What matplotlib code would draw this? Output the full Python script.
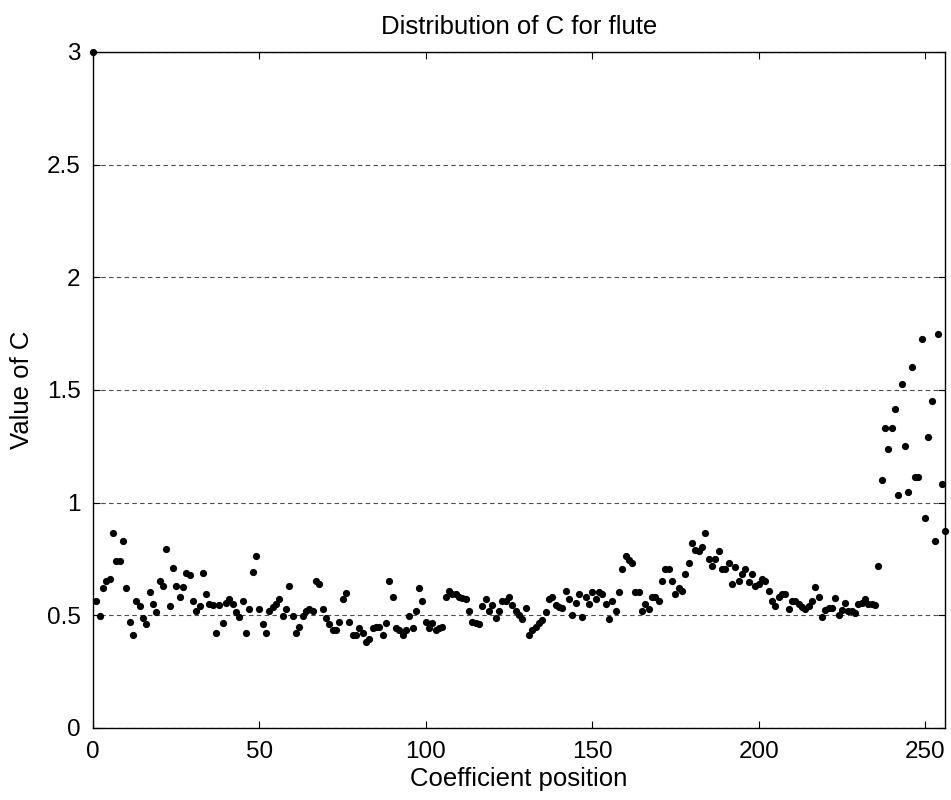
import matplotlib
matplotlib.use("Agg")
import matplotlib.pyplot as plt
import numpy as np

plt.rcParams['font.family'] = ['Liberation Sans', 'DejaVu Sans']

title = "Distribution of C for flute"
xlabel = "Coefficient position"
ylabel = "Value of C"
xticks = [0, 50, 100, 150, 200, 250]
yticks = [0, 0.5, 1, 1.5, 2, 2.5, 3]
ytick_labels = ["0", "0.5", "1", "1.5", "2", "2.5", "3"]

values_0_35 = [3.0,
    0.565, 0.498, 0.623, 0.654, 0.66, 0.864, 0.741, 0.741, 0.829, 0.623,
    0.47, 0.413, 0.565, 0.543, 0.487, 0.462, 0.602, 0.55, 0.515, 0.654,
    0.632, 0.793, 0.543, 0.712, 0.632, 0.58, 0.625, 0.69, 0.68, 0.565,
    0.52, 0.543, 0.69, 0.595, 0.55]
values_36_71 = [
    0.546, 0.42, 0.546, 0.465, 0.553, 0.571, 0.55, 0.516, 0.491, 0.565,
    0.42, 0.53, 0.691, 0.765, 0.53, 0.462, 0.42, 0.52, 0.535, 0.55,
    0.573, 0.498, 0.53, 0.632, 0.498, 0.42, 0.447, 0.495, 0.52, 0.53,
    0.52, 0.654, 0.639, 0.53, 0.49, 0.462]
values_72_108 = [
    0.435, 0.435, 0.472, 0.571, 0.598, 0.472, 0.413, 0.413, 0.442, 0.42,
    0.383, 0.394, 0.442, 0.45, 0.45, 0.413, 0.465, 0.654, 0.58, 0.442,
    0.435, 0.413, 0.435, 0.498, 0.442, 0.52, 0.623, 0.565, 0.472, 0.442,
    0.465, 0.435, 0.442, 0.45, 0.58, 0.61, 0.595]
values_109_147 = [
    0.595, 0.58, 0.576, 0.573, 0.52, 0.472, 0.465, 0.462, 0.541, 0.573,
    0.52, 0.546, 0.487, 0.52, 0.565, 0.565, 0.58, 0.546, 0.52, 0.502,
    0.484, 0.531, 0.413, 0.435, 0.45, 0.465, 0.479, 0.516, 0.573, 0.58,
    0.546, 0.536, 0.531, 0.61, 0.573, 0.502, 0.553, 0.595, 0.491]
values_148_184 = [
    0.58, 0.55, 0.602, 0.573, 0.602, 0.595, 0.55, 0.484, 0.565, 0.52,
    0.602, 0.704, 0.765, 0.746, 0.734, 0.602, 0.602, 0.52, 0.55, 0.528,
    0.58, 0.58, 0.565, 0.654, 0.704, 0.704, 0.654, 0.595, 0.62, 0.61,
    0.684, 0.734, 0.823, 0.79, 0.787, 0.805, 0.864]
values_185_217 = [
    0.749, 0.719, 0.749, 0.787, 0.704, 0.704, 0.734, 0.639, 0.713, 0.654,
    0.684, 0.704, 0.65, 0.684, 0.63, 0.639, 0.66, 0.654, 0.61, 0.565,
    0.543, 0.58, 0.595, 0.595, 0.528, 0.565, 0.565, 0.55, 0.535, 0.528,
    0.543, 0.565, 0.625]
values_218_256 = [
    0.583, 0.494, 0.524, 0.531, 0.531, 0.576, 0.502, 0.524, 0.553, 0.521,
    0.521, 0.512, 0.55, 0.553, 0.574, 0.55, 0.55, 0.545, 0.719, 1.099,
    1.333, 1.238, 1.333, 1.414, 1.034, 1.525, 1.253, 1.047, 1.604, 1.114,
    1.114, 1.728, 0.931, 1.29, 1.45, 0.83, 1.75, 1.084, 0.873]

values = (values_0_35 + values_36_71 + values_72_108 + values_109_147
          + values_148_184 + values_185_217 + values_218_256)
positions = list(range(len(values)))

fig = plt.figure(figsize=(9.51, 8.0), dpi=100)
ax = fig.add_axes([93/951, 1 - 728/800, (945 - 93)/951, (728 - 52)/800])

ax.plot(positions, values, linestyle='none', marker='o', markersize=5.2,
        color='black', markeredgewidth=0, clip_on=False, zorder=3)

ax.set_xlim(0, 256)
ax.set_ylim(0, 3)
ax.set_xticks(xticks)
ax.set_xticklabels([str(t) for t in xticks])
ax.set_yticks(yticks)
ax.set_yticklabels(ytick_labels)
ax.yaxis.grid(True, linestyle=(0, (4, 3)), color='0.3', linewidth=0.8, zorder=0)
ax.set_axisbelow(True)

ax.tick_params(direction='in', length=5, width=0.8, top=True, right=True,
               labelsize=17.5, colors='black')
ax.tick_params(axis='x', pad=9)
ax.tick_params(axis='y', pad=9)
for s in ax.spines.values():
    s.set_color('black')
    s.set_linewidth(1.0)

ax.set_title(title, fontsize=18.5, pad=13)
ax.set_xlabel(xlabel, fontsize=18.5, labelpad=3)
ax.set_ylabel(ylabel, fontsize=18.5, labelpad=9)

fig.savefig("out.png", dpi=100, facecolor='white')
